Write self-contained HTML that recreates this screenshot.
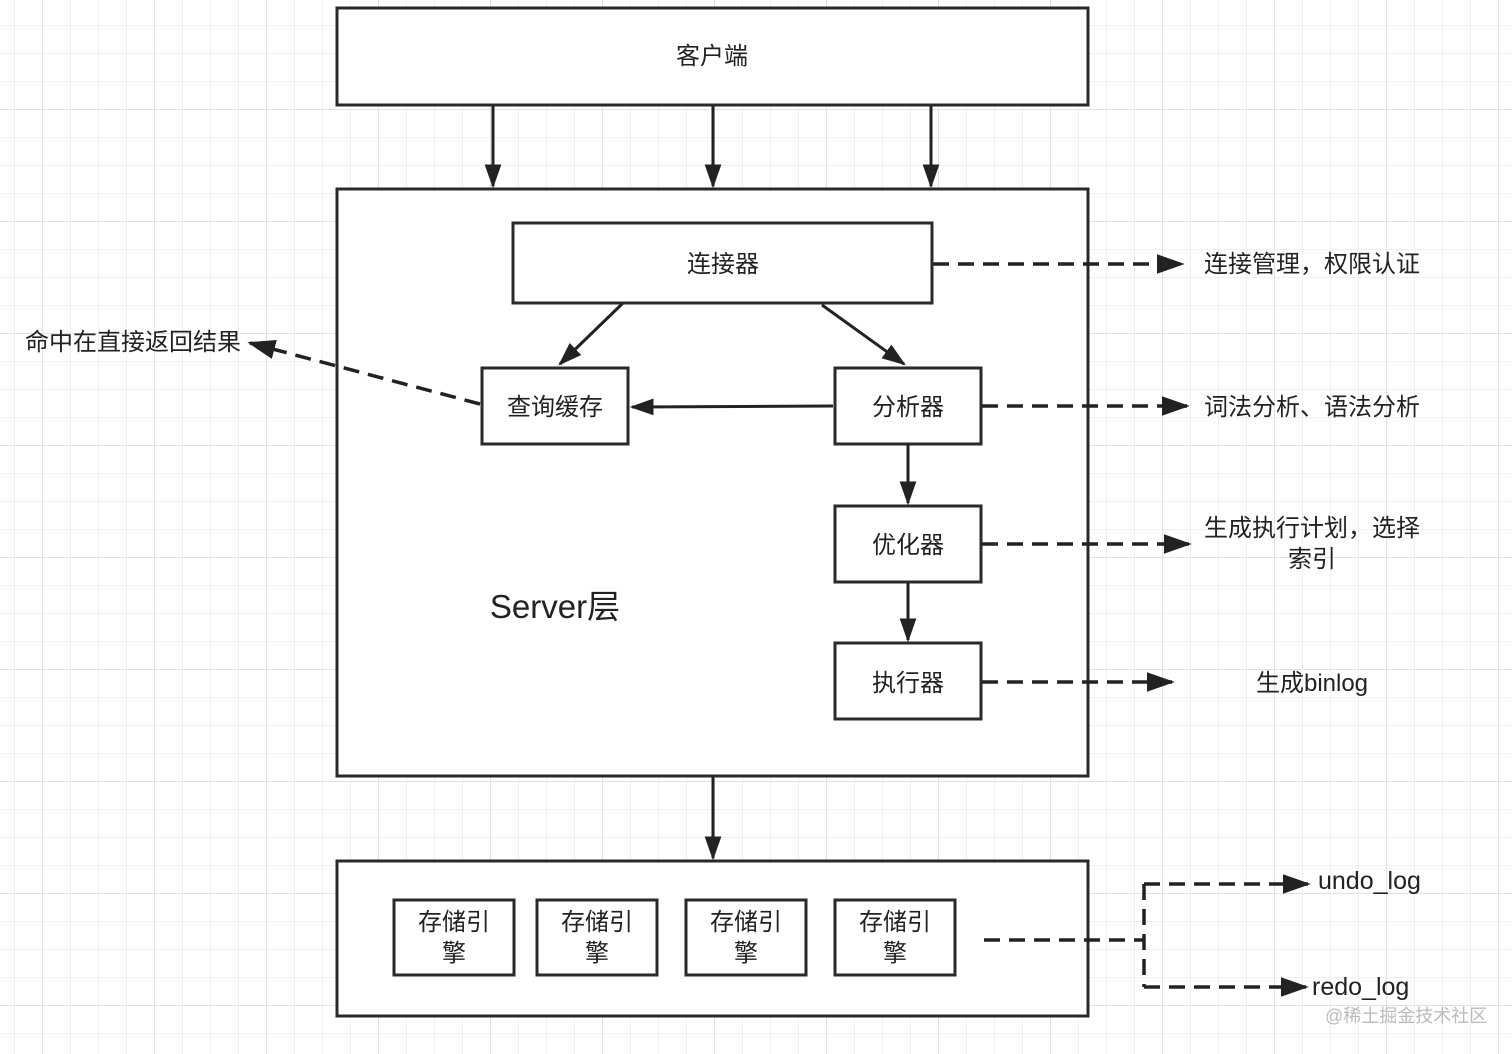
<!DOCTYPE html>
<html><head><meta charset="utf-8"><style>
html,body{margin:0;padding:0;background:#fff}
svg{display:block}
text{font-family:"Liberation Sans","Noto Sans CJK SC",sans-serif;fill:#222}
</style></head><body>
<svg width="1512" height="1054" viewBox="0 0 1512 1054" xmlns="http://www.w3.org/2000/svg">
<defs>
<pattern id="g" x="14" y="25" width="28" height="28" patternUnits="userSpaceOnUse">
<path d="M0 0H28M0 0V28" stroke="#ececec" stroke-width="1.5" fill="none"/>
</pattern>
<pattern id="G" x="42" y="109" width="112" height="112" patternUnits="userSpaceOnUse">
<path d="M0 0H112M0 0V112" stroke="#e2e2e2" stroke-width="2" fill="none"/>
</pattern>
<marker id="b" viewBox="0 0 10 10" refX="9" refY="5" markerWidth="8" markerHeight="8" orient="auto" markerUnits="strokeWidth">
<path d="M0 1.5L10 5L0 8.5z" fill="#222"/>
</marker>
</defs>
<rect width="1512" height="1054" fill="url(#g)"/>
<rect width="1512" height="1054" fill="url(#G)"/>
<g stroke="#2a2a2a" stroke-width="3" fill="#fff">
<rect x="337" y="8" width="751" height="97"/>
<rect x="337" y="189" width="751" height="587"/>
<rect x="337" y="861" width="751" height="155"/>
<rect x="513" y="223" width="419" height="80"/>
<rect x="482" y="368" width="146" height="76"/>
<rect x="835" y="368" width="146" height="76"/>
<rect x="835" y="506" width="146" height="76"/>
<rect x="835" y="643" width="146" height="76"/>
<rect x="394" y="900" width="120" height="75"/>
<rect x="537" y="900" width="120" height="75"/>
<rect x="686" y="900" width="120" height="75"/>
<rect x="835" y="900" width="120" height="75"/>
</g>
<g stroke="#222" stroke-width="3" fill="none">
<path d="M493 106V186" marker-end="url(#b)"/>
<path d="M713 106V186" marker-end="url(#b)"/>
<path d="M931 106V186" marker-end="url(#b)"/>
<path d="M713 777V858" marker-end="url(#b)"/>
<path d="M623 303L560 364" marker-end="url(#b)"/>
<path d="M822 305L904 364" marker-end="url(#b)"/>
<path d="M833 406L632 407" marker-end="url(#b)"/>
<path d="M908 445V503" marker-end="url(#b)"/>
<path d="M908 583V640" marker-end="url(#b)"/>
</g>
<g stroke="#222" stroke-width="3.5" fill="none" stroke-dasharray="16 9">
<path d="M933 264H1182" marker-end="url(#b)"/>
<path d="M982 406H1187" marker-end="url(#b)"/>
<path d="M982 544H1189" marker-end="url(#b)"/>
<path d="M982 682H1172" marker-end="url(#b)"/>
<path d="M480 404L250 343" marker-end="url(#b)"/>
<path d="M984 940H1144"/>
<path d="M1144 884V987"/>
<path d="M1144 884H1308" marker-end="url(#b)"/>
<path d="M1144 987H1306" marker-end="url(#b)"/>
</g>
<g font-size="24" text-anchor="middle">
<text x="712" y="64">客户端</text>
<text x="723" y="272">连接器</text>
<text x="555" y="415">查询缓存</text>
<text x="908" y="415">分析器</text>
<text x="908" y="553">优化器</text>
<text x="908" y="691">执行器</text>
<text x="454" y="930">存储引</text><text x="454" y="961">擎</text>
<text x="597" y="930">存储引</text><text x="597" y="961">擎</text>
<text x="746" y="930">存储引</text><text x="746" y="961">擎</text>
<text x="895" y="930">存储引</text><text x="895" y="961">擎</text>
<text x="1312" y="272">连接管理，权限认证</text>
<text x="1312" y="415">词法分析、语法分析</text>
<text x="1312" y="536">生成执行计划，选择</text>
<text x="1312" y="567">索引</text>
<text x="1312" y="691">生成binlog</text>
<text x="133" y="350">命中在直接返回结果</text>
</g>
<text x="555" y="618" font-size="33" text-anchor="middle">Server层</text>
<text x="1318" y="889" font-size="25">undo_log</text>
<text x="1312" y="995" font-size="25">redo_log</text>
<text x="1325" y="1022" font-size="18" style="fill:#bbb">@稀土掘金技术社区</text>
</svg>
</body></html>
